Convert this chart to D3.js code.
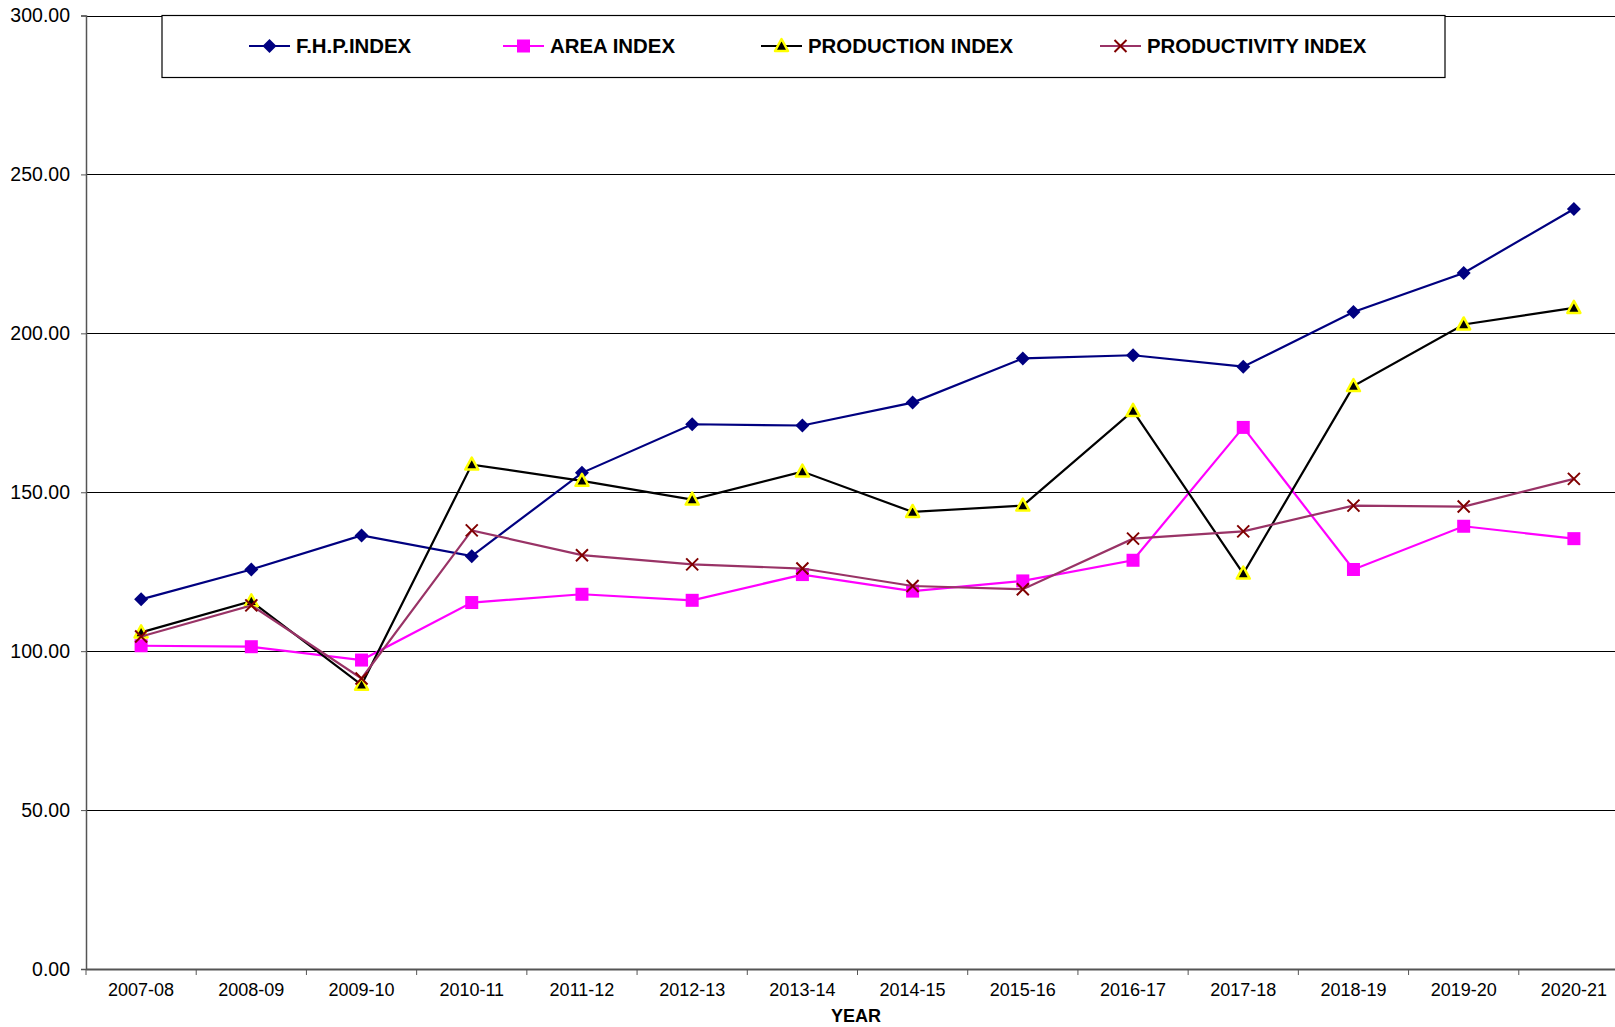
<!DOCTYPE html>
<html><head><meta charset="utf-8">
<script src="https://cdn.jsdelivr.net/npm/d3@7"></script>
<style>
html,body{margin:0;padding:0;background:#fff;overflow:hidden;}
svg{display:block;font-family:"Liberation Sans",Arial,sans-serif;}
</style></head>
<body>
<svg id="chart" width="1615" height="1027"></svg>
<script>
const years = ["2007-08","2008-09","2009-10","2010-11","2011-12","2012-13","2013-14","2014-15","2015-16","2016-17","2017-18","2018-19","2019-20","2020-21"];
const fhpIndex = [116.3,125.7,136.4,129.9,156.1,171.4,171.0,178.2,192.1,193.1,189.5,206.7,219.0,239.1];
const areaIndex = [101.7,101.4,97.2,115.3,117.9,116.0,124.1,118.9,122.1,128.6,170.4,125.7,139.3,135.4];
const productionIndex = [105.9,115.7,89.4,158.7,153.6,147.7,156.5,143.8,145.8,175.6,124.4,183.4,202.8,208.0];
const productivityIndex = [104.6,114.4,91.4,138.0,130.2,127.3,126.0,120.5,119.5,135.4,137.7,145.8,145.5,154.2];
const yTicks = [0,50,100,150,200,250,300];
const seriesNames = ["F.H.P.INDEX","AREA INDEX","PRODUCTION INDEX","PRODUCTIVITY INDEX"];
const xTitle = "YEAR";

(function(){
const series = [
  {name: seriesNames[0], values: fhpIndex, line: "#000080", marker: "diamond"},
  {name: seriesNames[1], values: areaIndex, line: "#FF00FF", marker: "square"},
  {name: seriesNames[2], values: productionIndex, line: "#000000", marker: "triangle"},
  {name: seriesNames[3], values: productivityIndex, line: "#993366", marker: "cross"}
];

const svg = d3.select("#chart");
const pl = 86, pr = 1629, pt = 15.5, pb = 969;
const x = d3.scaleBand().domain(years).range([pl, pr]);
const y = d3.scaleLinear().domain([0, 300]).range([pb, pt]);

svg.append("g").selectAll("line").data(yTicks.filter(d => d > 0)).join("line")
  .attr("x1", pl).attr("x2", pr)
  .attr("y1", d => Math.round(y(d)) + 0.5).attr("y2", d => Math.round(y(d)) + 0.5)
  .attr("stroke", "#000").attr("stroke-width", 1);

const yAxis = svg.append("g").attr("transform", `translate(${pl},0)`)
  .call(d3.axisLeft(y).tickValues(yTicks).tickFormat(d3.format(".2f")).tickSize(5).tickPadding(11));
yAxis.select(".domain").attr("stroke", "#555").attr("stroke-width", 1.5);
yAxis.selectAll(".tick line").attr("stroke", "#555");
yAxis.selectAll("text").attr("font-size", 19.5).attr("fill", "#000")
  .attr("font-family", '"Liberation Sans",Arial,sans-serif');

const xAxis = svg.append("g").attr("transform", `translate(0,${pb})`)
  .call(d3.axisBottom(x).tickSize(0).tickPadding(14));
xAxis.select(".domain").attr("stroke", "#555").attr("stroke-width", 2);
xAxis.selectAll("text").attr("font-size", 18).attr("fill", "#000")
  .attr("font-family", '"Liberation Sans",Arial,sans-serif');
svg.append("g").selectAll("line").data(years).join("line")
  .attr("x1", d => x(d)).attr("x2", d => x(d))
  .attr("y1", pb).attr("y2", pb + 6)
  .attr("stroke", "#555").attr("stroke-width", 1);

svg.append("text").attr("x", 856).attr("y", 1022).attr("text-anchor", "middle")
  .attr("font-size", 18).attr("font-weight", "bold").text(xTitle);

const cx = d => x(d) + x.bandwidth() / 2;

function drawMarker(g, type, px, py) {
  if (type === "diamond") {
    g.append("path").attr("d", `M${px},${py-7}L${px+7},${py}L${px},${py+7}L${px-7},${py}Z`).attr("fill", "#000080");
  } else if (type === "square") {
    g.append("rect").attr("x", px-6.5).attr("y", py-6.5).attr("width", 13).attr("height", 13).attr("fill", "#FF00FF");
  } else if (type === "triangle") {
    g.append("path").attr("d", `M${px},${py-7}L${px+6.5},${py+5}L${px-6.5},${py+5}Z`)
      .attr("fill", "#000").attr("stroke", "#FFFF00").attr("stroke-width", 2.5).attr("stroke-linejoin","round");
  } else if (type === "cross") {
    g.append("path").attr("d", `M${px-6},${py-6}L${px+6},${py+6}M${px+6},${py-6}L${px-6},${py+6}`)
      .attr("stroke", "#800000").attr("stroke-width", 2).attr("fill", "none");
  }
}

const line = d3.line().x((d, i) => cx(years[i])).y(d => y(d));
series.forEach(s => {
  const g = svg.append("g");
  g.append("path").datum(s.values).attr("d", line).attr("fill", "none")
    .attr("stroke", s.line).attr("stroke-width", 2.2);
  s.values.forEach((v, i) => drawMarker(g, s.marker, cx(years[i]), y(v)));
});

const lg = svg.append("g");
lg.append("rect").attr("x", 162).attr("y", 15.5).attr("width", 1283).attr("height", 62)
  .attr("fill", "#fff").attr("stroke", "#000").attr("stroke-width", 1.2);
const legendX = [249, 503, 761, 1100];
series.forEach((s, i) => {
  const lx = legendX[i], ly = 46;
  lg.append("line").attr("x1", lx).attr("x2", lx + 41).attr("y1", ly).attr("y2", ly)
    .attr("stroke", s.line).attr("stroke-width", 2.2);
  drawMarker(lg, s.marker, lx + 20.5, ly);
  lg.append("text").attr("x", lx + 47).attr("y", ly + 7).attr("font-size", 20.4)
    .attr("font-weight", "bold").attr("fill", "#000").text(s.name);
});
})();
</script>
</body></html>
